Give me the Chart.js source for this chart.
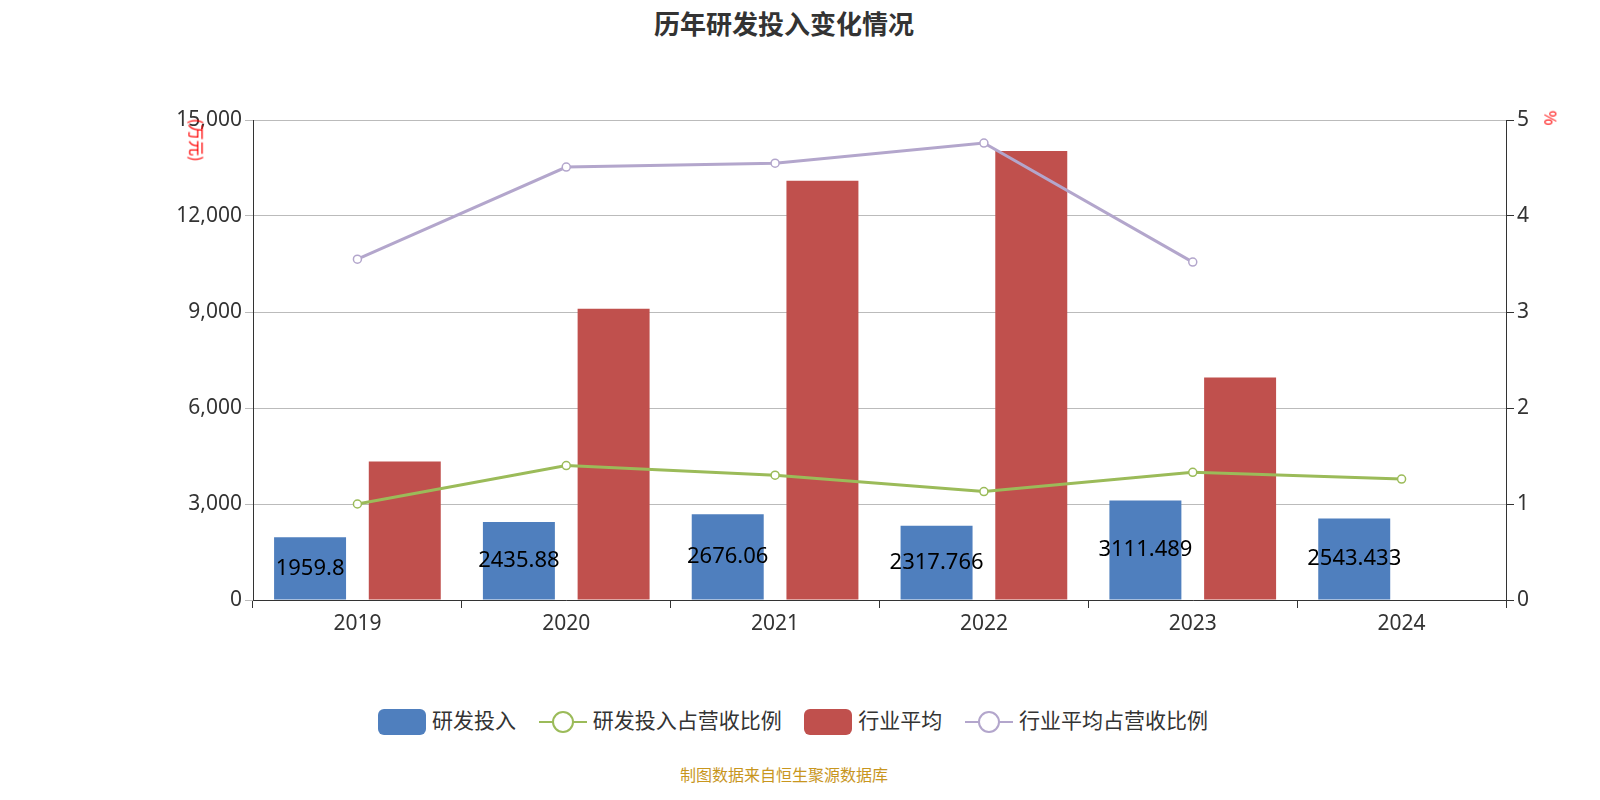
<!DOCTYPE html><html><head><meta charset="utf-8">
<script src="https://cdn.jsdelivr.net/npm/chart.js@4"></script>
<style>body{margin:0;width:1600px;height:800px;background:#fff;font-family:"Noto Sans CJK SC","Noto Sans",sans-serif;position:relative;overflow:hidden}
#t{position:absolute;top:4px;left:0;width:1568px;text-align:center;font-size:26px;font-weight:bold;color:#333}
#wrap{position:absolute;left:0;top:0;width:1600px;height:680px}
#lg{position:absolute;top:704px;left:0;width:1568px;text-align:center;font-size:21px;color:#333}
#lg span.i{display:inline-block;vertical-align:middle;margin:0 6px 0 18px}
#src{position:absolute;top:762px;left:0;width:1568px;text-align:center;font-size:16px;color:#c8961e}
.u{position:absolute;color:red;font-size:16px}
</style></head><body>
<div id="t">历年研发投入变化情况</div>
<div id="wrap"><canvas id="c" width="1600" height="680"></canvas></div>
<div class="u" style="left:176px;top:128px;transform:rotate(90deg);transform-origin:center">(万元)</div>
<div class="u" style="left:1544px;top:106px;transform:rotate(90deg)">%</div>
<div id="lg">
<span class="i" style="width:48px;height:26px;background:#4f7fbe;border-radius:6px"></span>研发投入
<span class="i" style="width:48px;height:26px;position:relative"><span style="position:absolute;left:0;top:12px;width:48px;height:2px;background:#9bbb59"></span><span style="position:absolute;left:13px;top:2px;width:18px;height:18px;border:2px solid #9bbb59;border-radius:50%;background:#fff"></span></span>研发投入占营收比例
<span class="i" style="width:48px;height:26px;background:#c0504d;border-radius:6px"></span>行业平均
<span class="i" style="width:48px;height:26px;position:relative"><span style="position:absolute;left:0;top:12px;width:48px;height:2px;background:#b3a6cc"></span><span style="position:absolute;left:13px;top:2px;width:18px;height:18px;border:2px solid #b3a6cc;border-radius:50%;background:#fff"></span></span>行业平均占营收比例
</div>
<div id="src">制图数据来自恒生聚源数据库</div>
<script>
const categories=["2019","2020","2021","2022","2023","2024"];
const rd=[1959.8,2435.88,2676.06,2317.766,3111.489,2543.433];
const rdRatio=[1.0,1.4,1.3,1.13,1.33,1.26];
const ind=[4330,9100,13100,14030,6950,null];
const indRatio=[3.55,4.51,4.55,4.76,3.52,null];
const leftTicks=[0,3000,6000,9000,12000,15000];
const F='"Noto Sans","Noto Sans CJK SC",sans-serif';
const labelPlugin={id:'lbl',afterDatasetsDraw(ch){const m=ch.getDatasetMeta(0),ctx=ch.ctx;ctx.save();ctx.font='22px '+F;ctx.fillStyle='#000';ctx.textAlign='center';ctx.textBaseline='middle';m.data.forEach((b,i)=>{ctx.fillText(String(rd[i]),b.x,(b.y+b.base)/2);});ctx.restore();}};
new Chart(document.getElementById('c'),{data:{labels:categories,datasets:[
{type:'bar',label:'研发投入',data:rd,backgroundColor:'#4f7fbe',yAxisID:'y',order:2,categoryPercentage:0.907,barPercentage:0.76},
{type:'line',label:'研发投入占营收比例',data:rdRatio,borderColor:'#9bbb59',borderWidth:3,pointRadius:4,pointBackgroundColor:'#fff',pointBorderColor:'#9bbb59',pointBorderWidth:1.5,yAxisID:'y1',order:0},
{type:'bar',label:'行业平均',data:ind,backgroundColor:'#c0504d',yAxisID:'y',order:2,categoryPercentage:0.907,barPercentage:0.76},
{type:'line',label:'行业平均占营收比例',data:indRatio,borderColor:'#b3a6cc',borderWidth:3,pointRadius:4,pointBackgroundColor:'#fff',pointBorderColor:'#b3a6cc',pointBorderWidth:1.5,yAxisID:'y1',order:0}]},
options:{responsive:false,animation:false,layout:{padding:{left:0,right:0,top:120,bottom:0}},plugins:{legend:{display:false},tooltip:{enabled:false}},
scales:{x:{afterFit(s){s.height=80},grid:{offset:true,drawOnChartArea:false,color:'#333',tickLength:8},border:{color:'#333'},ticks:{color:'#333',font:{size:21,family:F}}},
y:{position:'left',min:0,max:15000,afterBuildTicks(s){s.ticks=leftTicks.map(v=>({value:v}))},afterFit(s){s.width=253},grid:{color:'#bbb',tickLength:8},border:{color:'#333',display:true},ticks:{color:'#333',font:{size:21,family:F},callback:v=>v.toLocaleString('en-US')}},
y1:{position:'right',min:0,max:5,afterFit(s){s.width=94},grid:{drawOnChartArea:false,color:'#333',tickLength:8},border:{color:'#333'},ticks:{stepSize:1,color:'#333',font:{size:21,family:F}}}}},
plugins:[labelPlugin]});
</script></body></html>
